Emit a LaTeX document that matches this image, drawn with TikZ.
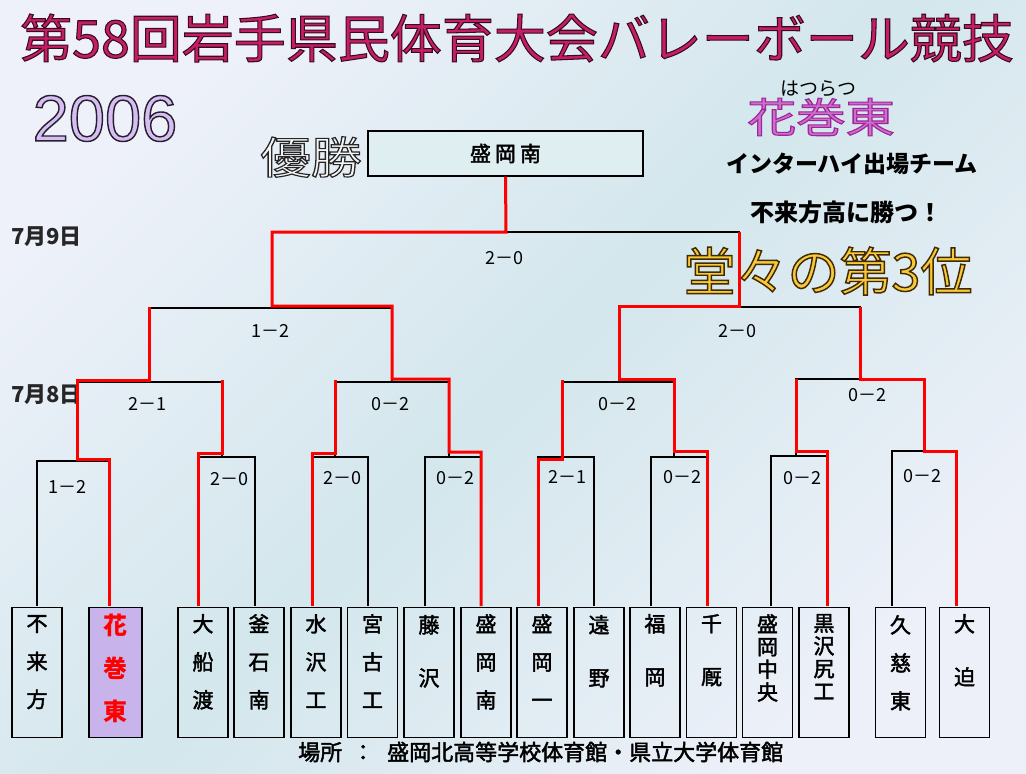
\documentclass[tikz,border=0pt]{standalone}
\usepackage{fontspec}
\setmainfont{Noto Sans CJK JP}
\newfontfamily\jpmed[FakeBold=2]{Noto Sans CJK JP}
\newfontfamily\jpoA[FakeBold=2.0]{Noto Sans CJK JP}
\newfontfamily\jpoB[FakeBold=2.8]{Noto Sans CJK JP}
\newfontfamily\jpoC[FakeBold=2.6]{Noto Sans CJK JP}
\newfontfamily\jpoD[FakeBold=2.6]{Noto Sans CJK JP}
\newfontfamily\aroA[FakeBold=2.2]{Liberation Sans}
\usetikzlibrary{calc}
\definecolor{bgA}{RGB}{238,241,250}
\definecolor{bgB}{RGB}{211,231,236}
\definecolor{bgC}{RGB}{237,240,249}
\definecolor{titlefill}{RGB}{196,30,104}
\definecolor{lav}{RGB}{214,190,242}
\definecolor{goldf}{RGB}{250,200,60}
\definecolor{hanabox}{RGB}{200,180,235}
\definecolor{hanaf}{RGB}{205,110,205}
\definecolor{winred}{RGB}{255,0,0}
\definecolor{champfill}{RGB}{222,238,241}
% outlined text: #1 stroke colour (r g b in 0..1), #2 fill colour, #3 text
\newcommand\otext[3]{{\color{#2}\special{pdf:literal direct #1 RG}#3}}
\begin{document}
\begin{tikzpicture}[x=1pt,y=-1pt,
  blk/.style={draw=black,line width=1.4pt},
  win/.style={draw=winred,line width=3pt,line join=miter},
  team/.style={draw=black,line width=1.4pt,minimum width=50pt,minimum height=130pt,inner sep=0pt,anchor=north},
  tname/.style={anchor=north,inner sep=0pt,align=center,font=\jpmed\fontsize{21}{#1}\selectfont},
  score/.style={inner sep=0pt,font=\fontsize{18}{18}\selectfont},
  lbl/.style={inner sep=0pt}]
\useasboundingbox (0,0) rectangle (1026,774);
\shade[left color=bgA, right color=bgC, middle color=bgB, shading angle=45] (0,0) rectangle (1026,774);

% headings
\node[lbl,font=\jpoA\fontsize{52}{52}\selectfont] (title) at (517,38) {\otext{0.22 0.04 0.11}{titlefill}{第58回岩手県民体育大会バレーボール競技}};
\node[lbl,font=\aroA\fontsize{65}{65}\selectfont] (year) at (105,118.5) {\otext{0.15 0.12 0.18}{lav}{2006}};
\node[lbl,font=\jpoC\fontsize{44}{44}\selectfont] (yusho) at (311,157) {\scalebox{1.15}[1]{\otext{0.15 0.15 0.15}{white!96!black}{優勝}}};
\node[lbl,font=\fontsize{19}{19}\selectfont] (furi) at (818,89) {はつらつ};
\node[lbl,font=\jpoD\fontsize{41}{41}\selectfont] (hana) at (821,117) {\scalebox{1.2}[1]{\otext{0.62 0.15 0.6}{hanaf}{花巻東}}};
\node[lbl,font=\bfseries\fontsize{23}{23}\selectfont] (ih) at (852,164) {インターハイ出場チーム};
\node[lbl,font=\bfseries\fontsize{24}{24}\selectfont] (beat) at (846,212) {不来方高に勝つ！};
\node[lbl,font=\jpoB\fontsize{52}{52}\selectfont] (third) at (828,271) {\otext{0.25 0.17 0.0}{goldf}{堂々の第3位}};
\node[lbl,anchor=west,text=black!85,font=\bfseries\fontsize{22}{22}\selectfont] (d9) at (11,237) {7月9日};
\node[lbl,anchor=west,text=black!85,font=\bfseries\fontsize{22}{22}\selectfont] (d8) at (11,395) {7月8日};
\node[lbl,anchor=west,font=\jpmed\fontsize{22}{22}\selectfont] (venue) at (298,752) {場所\hspace{10pt}：\hspace{13pt}盛岡北高等学校体育館・県立大学体育館};

% champion box
\node[draw=black,line width=1.4pt,fill=champfill,minimum width=275pt,minimum height=45pt,inner sep=0pt,font=\jpmed\fontsize{21}{21}\selectfont] (champ) at (505.5,153.5) {盛\hspace{4pt}岡\hspace{4pt}南};

% team boxes
\node[team] (t1) at (37,606.5) {};
\node[team,minimum width=53pt,fill=hanabox] (t2) at (115.5,606.5) {};
\node[team] (t3) at (203,606.5) {};
\node[team] (t4) at (259,606.5) {};
\node[team] (t5) at (316,606.5) {};
\node[team] (t6) at (372.5,606.5) {};
\node[team] (t7) at (429,606.5) {};
\node[team] (t8) at (486,606.5) {};
\node[team] (t9) at (542,606.5) {};
\node[team] (t10) at (599,606.5) {};
\node[team] (t11) at (655,606.5) {};
\node[team] (t12) at (711.5,606.5) {};
\node[team] (t13) at (767.5,606.5) {};
\node[team] (t14) at (824,606.5) {};
\node[team] (t15) at (900.5,606.5) {};
\node[team] (t16) at (964.5,606.5) {};

\node[tname=38] (n1) at (37,615) {不\\来\\方};
\node[anchor=north,inner sep=0pt,align=center,text=winred,font=\bfseries\fontsize{24}{43}\selectfont] (n2) at (115.5,614) {花\\巻\\東};
\node[tname=38] (n3) at (203,614) {大\\船\\渡};
\node[tname=38] (n4) at (259,614) {釜\\石\\南};
\node[tname=38] (n5) at (316,614) {水\\沢\\工};
\node[tname=38] (n6) at (372.5,614) {宮\\古\\工};
\node[tname=53] (n7) at (429,615) {藤\\沢};
\node[tname=38] (n8) at (486,614) {盛\\岡\\南};
\node[tname=38] (n9) at (542,614) {盛\\岡\\一};
\node[tname=53] (n10) at (599,615) {遠\\野};
\node[tname=53] (n11) at (655,614) {福\\岡};
\node[tname=53] (n12) at (711.5,614) {千\\厩};
\node[tname=22.7] (n13) at (767.5,614) {盛\\岡\\中\\央};
\node[tname=22.7] (n14) at (824,614) {黒\\沢\\尻\\工};
\node[tname=38] (n15) at (900.5,615) {久\\慈\\東};
\node[tname=53] (n16) at (964.5,614) {大\\迫};

% attachment points
\coordinate (a1) at (37,606);  \coordinate (a2) at (109,606);
\coordinate (a3) at (198,606); \coordinate (a4) at (255,606);
\coordinate (a5) at (312,606); \coordinate (a6) at (368,606);
\coordinate (a7) at (425,606); \coordinate (a8) at (481,606);
\coordinate (a9) at (538,606); \coordinate (a10) at (594,606);
\coordinate (a11) at (651,606); \coordinate (a12) at (707,606);
\coordinate (a13) at (771,606); \coordinate (a14) at (827,606);
\coordinate (a15) at (892,606); \coordinate (a16) at (956,606);
% junctions
\coordinate (m1) at (77,461);  \coordinate (m2) at (222,457);
\coordinate (m3) at (335,457); \coordinate (m4) at (449,457);
\coordinate (m5) at (562,457); \coordinate (m6) at (674,457);
\coordinate (m7) at (796,456); \coordinate (m8) at (924,451);
\coordinate (s1) at (149,382); \coordinate (s2) at (392,382);
\coordinate (s3) at (619,382); \coordinate (s4) at (860,379);
\coordinate (q1) at (272,308); \coordinate (q2) at (739,307);
\coordinate (fj) at (506,232);

% black brackets
\draw[blk] (a1) |- (m1) -| (a2);
\draw[blk] (a3) |- (m2) -| (a4);
\draw[blk] (a5) |- (m3) -| (a6);
\draw[blk] (a7) |- (m4) -| (a8);
\draw[blk] (a9) |- (m5) -| (a10);
\draw[blk] (a11) |- (m6) -| (a12);
\draw[blk] (a13) |- (m7) -| (a14);
\draw[blk] (a15) |- (m8) -| (a16);
\draw[blk] (m1) |- (s1) -| (m2);
\draw[blk] (m3) |- (s2) -| (m4);
\draw[blk] (m5) |- (s3) -| (m6);
\draw[blk] (m7) |- (s4) -| (m8);
\draw[blk] (s1) |- (q1) -| (s2);
\draw[blk] (s3) |- (q2) -| (s4);
\draw[blk] (q1) |- (fj) -| (q2);
\draw[blk] (fj) -- (champ.south);

% winners' paths
\draw[win] (a2) -- (109,459) -- (77,459) -- (77,380) -- (149,380) -- (149,307);
\draw[win] (a3) -- (198,453) -- (222,453) -- (222,380);
\draw[win] (a5) -- (312,453) -- (335,453) -- (335,380);
\draw[win] (a8) -- (481,452) -- (449,452) -- (449,379) -- (392,379) -- (392,306) -- (272,306) -- (272,232) -- (506,232) -- (champ.south);
\draw[win] (a9) -- (538,459) -- (562,459) -- (562,380);
\draw[win] (a12) -- (707,451) -- (674,451) -- (674,379) -- (619,379) -- (619,306) -- (739,306) -- (739,232);
\draw[win] (a14) -- (827,451) -- (796,451) -- (796,379);
\draw[win] (a16) -- (956,451) -- (924,451) -- (924,379) -- (860,379) -- (860,307);

% scores
\node[score] (c1) at (67,487) {1－2};
\node[score] (c2) at (229,479) {2－0};
\node[score] (c3) at (342,478) {2－0};
\node[score] (c4) at (455,478) {0－2};
\node[score] (c5) at (567,477) {2－1};
\node[score] (c6) at (682,477) {0－2};
\node[score] (c7) at (802,478) {0－2};
\node[score] (c8) at (922,476) {0－2};
\node[score] (c9) at (147,404) {2－1};
\node[score] (c10) at (390,404) {0－2};
\node[score] (c11) at (617,404) {0－2};
\node[score] (c12) at (867,395) {0－2};
\node[score] (c13) at (270,331) {1－2};
\node[score] (c14) at (737,331) {2－0};
\node[score] (c15) at (504,258) {2－0};
\end{tikzpicture}
\end{document}
